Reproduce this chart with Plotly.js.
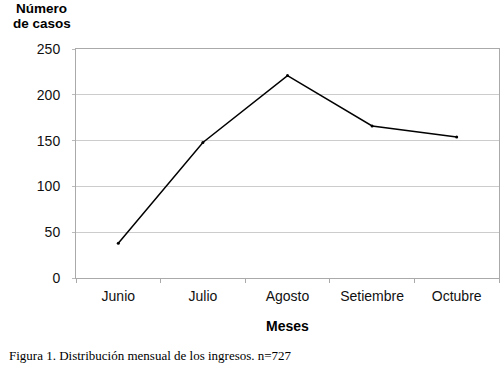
<!DOCTYPE html>
<html>
<head>
<meta charset="utf-8">
<script src="https://cdn.plot.ly/plotly-3.0.1.min.js"></script>
<style>html,body{margin:0;padding:0;background:#fff;}#chart{width:500px;height:373px;}</style>
</head>
<body>
<div id="chart"></div>
<script>
const months = ["Junio", "Julio", "Agosto", "Setiembre", "Octubre"];
const cases = [38, 148, 221, 166, 154];
const yTicks = [0, 50, 100, 150, 200, 250];
const yTitleLines = ["Número", "de casos"];
const xTitle = "Meses";
const caption = "Figura 1. Distribución mensual de los ingresos. n=727";

const trace = {
  x: months,
  y: cases,
  type: "scatter",
  mode: "lines+markers",
  line: {color: "#000", width: 1.5},
  marker: {color: "#000", size: 3},
  cliponaxis: false,
  hoverinfo: "none"
};

const titleFont = {family: "Liberation Sans, Arial, sans-serif", size: 13.5, color: "#000"};

const layout = {
  width: 500, height: 373,
  margin: {l: 76, r: 1, t: 49, b: 95},
  paper_bgcolor: "#fff", plot_bgcolor: "#fff",
  showlegend: false,
  font: {family: "Liberation Sans, Arial, sans-serif", size: 14, color: "#111"},
  xaxis: {
    type: "category",
    range: [-0.5, months.length - 0.5],
    tickson: "boundaries",
    ticks: "outside", ticklen: 4, tickcolor: "#aaa",
    showgrid: false,
    showline: true, linecolor: "#aaa", linewidth: 1, mirror: true,
    ticklabelstandoff: 5,
    fixedrange: true
  },
  yaxis: {
    range: [0, 250],
    tickvals: yTicks,
    ticks: "outside", ticklen: 3, tickcolor: "#bbb",
    showgrid: true, gridcolor: "#ccc", gridwidth: 1,
    showline: true, linecolor: "#aaa", linewidth: 1, mirror: true,
    zeroline: false,
    ticklabelstandoff: 9,
    fixedrange: true
  },
  annotations: [
    {text: "<b>" + yTitleLines[0] + "</b>", xref: "paper", yref: "paper", x: -0.081, y: 1.0, yshift: 41,
     xanchor: "center", yanchor: "middle", showarrow: false, font: titleFont},
    {text: "<b>" + yTitleLines[1] + "</b>", xref: "paper", yref: "paper", x: -0.081, y: 1.0, yshift: 26,
     xanchor: "center", yanchor: "middle", showarrow: false, font: titleFont},
    {text: "<b>" + xTitle + "</b>", xref: "paper", yref: "paper", x: 0.5, y: 0, yshift: -48,
     xanchor: "center", yanchor: "middle", showarrow: false,
     font: {family: "Liberation Sans, Arial, sans-serif", size: 14, color: "#000"}},
    {text: caption, xref: "paper", yref: "paper", x: -0.164, y: 0, yshift: -77,
     xanchor: "left", yanchor: "middle", showarrow: false,
     font: {family: "Liberation Serif, Times New Roman, serif", size: 13, color: "#000"}}
  ]
};

Plotly.newPlot("chart", [trace], layout, {displayModeBar: false, staticPlot: true});
</script>
</body>
</html>
